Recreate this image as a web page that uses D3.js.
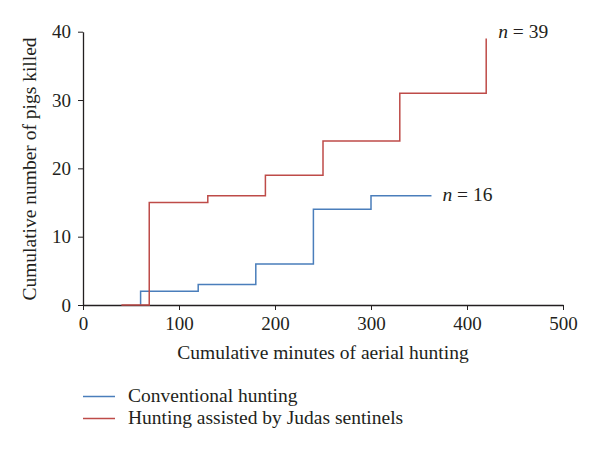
<!DOCTYPE html>
<html>
<head>
<meta charset="utf-8">
<script src="https://cdn.jsdelivr.net/npm/d3@7"></script>
<style>
  html, body { margin: 0; padding: 0; background: #fff; }
  svg { display: block; }
  text { font-family: "Liberation Serif", "DejaVu Serif", serif; fill: #231f20; }
</style>
</head>
<body>
<svg id="chart" width="600" height="452"></svg>
<script>
// Data
const seriesNames = ["Conventional hunting", "Hunting assisted by Judas sentinels"];
const conventionalStart = 60;
const conventionalTimes = [60, 120, 180, 240, 300];
const conventionalCounts = [2, 3, 6, 14, 16];
const conventionalEnd = 363;
const judasStart = 40;
const judasTimes = [69, 130, 190, 250, 330, 420];
const judasCounts = [15, 16, 19, 24, 31, 39];
const judasEnd = 420;
const totals = [16, 39];
const xTicks = [0, 100, 200, 300, 400, 500];
const yTicks = [0, 10, 20, 30, 40];
const colors = ["#4a7ebb", "#be4b48"];

const FS = 19.5;
const svg = d3.select("#chart");
const x = d3.scaleLinear().domain([0, 500]).range([83, 563]);
const y = d3.scaleLinear().domain([0, 40]).range([305, 31.7]);

function steps(start, times, counts, end) {
  const pts = [[start, 0]];
  times.forEach((t, i) => pts.push([t, counts[i]]));
  if (end > times[times.length - 1]) pts.push([end, counts[counts.length - 1]]);
  return pts;
}
const series = [
  steps(conventionalStart, conventionalTimes, conventionalCounts, conventionalEnd),
  steps(judasStart, judasTimes, judasCounts, judasEnd)
];

// Axes
const xAxis = svg.append("g").attr("transform", `translate(0,${y(0)})`)
  .call(d3.axisBottom(x).tickValues(xTicks).tickSize(5).tickSizeOuter(0).tickPadding(7));
const yAxis = svg.append("g").attr("transform", `translate(${x(0)},0)`)
  .call(d3.axisLeft(y).tickValues(yTicks).tickSize(5).tickSizeOuter(0).tickPadding(7));
[xAxis, yAxis].forEach(g => {
  g.select(".domain").attr("stroke", "#231f20").attr("stroke-width", 1.3);
  g.selectAll(".tick line").attr("stroke", "#231f20").attr("stroke-width", 1);
  g.selectAll(".tick text").attr("font-size", 19).attr("fill", "#231f20")
    .style("font-family", '"Liberation Serif", serif');
});

// Lines
const line = d3.line().x(d => x(d[0])).y(d => y(d[1])).curve(d3.curveStepAfter);
series.forEach((s, i) => {
  svg.append("path").datum(s).attr("d", line)
    .attr("fill", "none").attr("stroke", colors[i]).attr("stroke-width", 1.5);
});

// n labels
svg.append("text").attr("x", x(conventionalEnd) + 11).attr("y", 201)
  .attr("font-size", FS).html(`<tspan font-style="italic">n</tspan> = ${totals[0]}`);
svg.append("text").attr("x", x(judasEnd) + 12).attr("y", 38)
  .attr("font-size", FS).html(`<tspan font-style="italic">n</tspan> = ${totals[1]}`);

// Axis titles
svg.append("text").attr("x", 323).attr("y", 359)
  .attr("text-anchor", "middle").attr("font-size", FS)
  .text("Cumulative minutes of aerial hunting");
svg.append("text").attr("transform", "translate(36,169) rotate(-90)")
  .attr("text-anchor", "middle").attr("font-size", FS)
  .text("Cumulative number of pigs killed");

// Legend
seriesNames.forEach((name, i) => {
  const ly = 396.5 + i * 22;
  svg.append("line").attr("x1", 83).attr("x2", 115).attr("y1", ly).attr("y2", ly)
    .attr("stroke", colors[i]).attr("stroke-width", 1.5);
  svg.append("text").attr("x", 128).attr("y", ly + 5.5)
    .attr("font-size", FS).text(name);
});
</script>
</body>
</html>
